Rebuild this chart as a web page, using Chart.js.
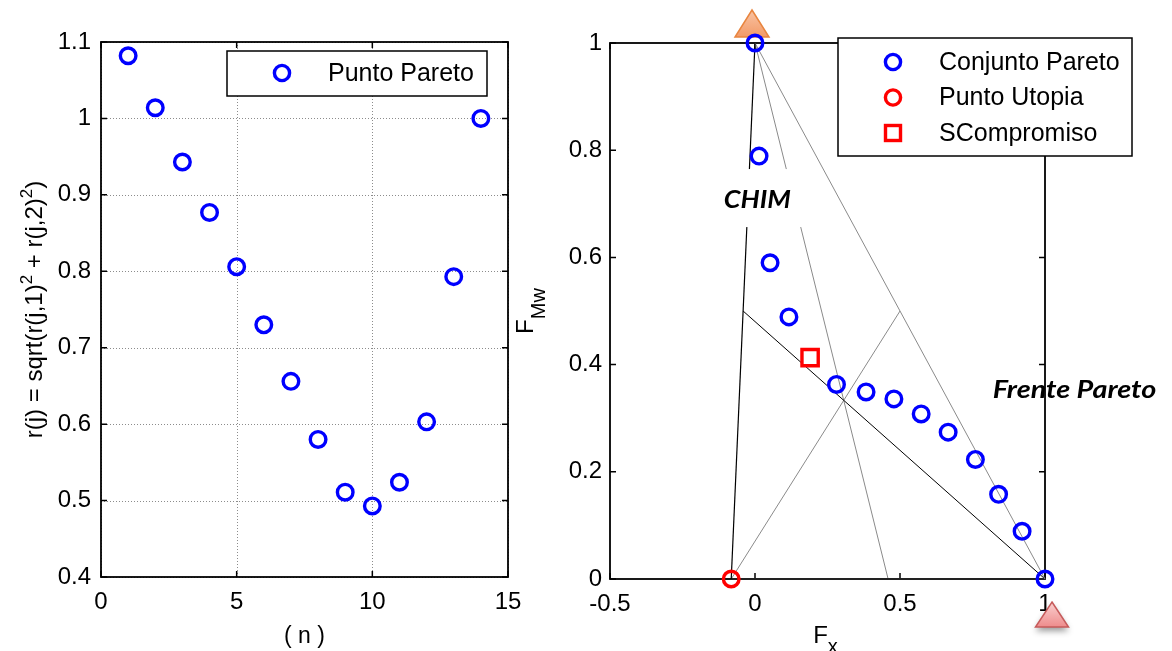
<!DOCTYPE html>
<html>
<head>
<meta charset="utf-8">
<script src="https://cdn.jsdelivr.net/npm/chart.js@4.4.0/dist/chart.umd.min.js"></script>
<style>
  html, body { margin: 0; padding: 0; background: #fff; }
  body { width: 1172px; height: 651px; position: relative; overflow: hidden; }
  canvas { position: absolute; top: 0; }
  #distChart { left: 0; }
  #paretoChart { left: 500px; }
</style>
</head>
<body>
<canvas id="distChart" width="560" height="651"></canvas>
<canvas id="paretoChart" width="672" height="651"></canvas>
<script>
// distance of each Pareto point to the utopia point
const nIndex = [1, 2, 3, 4, 5, 6, 7, 8, 9, 10, 11, 12, 13, 14];
const rDistance = [1.082, 1.014, 0.943, 0.877, 0.806, 0.730, 0.656, 0.580, 0.511, 0.493, 0.524, 0.603, 0.793, 1.000];
const distXTicks = [0, 5, 10, 15];
const distXLabels = ['0', '5', '10', '15'];
const distYTicks = [0.4, 0.5, 0.6, 0.7, 0.8, 0.9, 1.0, 1.1];
const distYLabels = ['0.4', '0.5', '0.6', '0.7', '0.8', '0.9', '1', '1.1'];

// normalised Pareto front (F_x, F_Mw)
const paretoFx  = [0, 0.014, 0.052, 0.117, 0.281, 0.383, 0.479, 0.573, 0.666, 0.760, 0.840, 0.921, 1];
const paretoFMw = [1, 0.789, 0.590, 0.489, 0.363, 0.349, 0.336, 0.308, 0.274, 0.223, 0.158, 0.089, 0];
const utopiaFx = [-0.082];
const utopiaFMw = [0];
const compromiseFx = [0.19];
const compromiseFMw = [0.413];
const frontXTicks = [-0.5, 0, 0.5, 1];
const frontXLabels = ['-0.5', '0', '0.5', '1'];
const frontYTicks = [0, 0.2, 0.4, 0.6, 0.8, 1];
const frontYLabels = ['0', '0.2', '0.4', '0.6', '0.8', '1'];

const FONT = '"Liberation Sans", Arial, Helvetica, sans-serif';
const NOTE_FONT = 'italic bold 24px Lato, "Open Sans", sans-serif';

const toPoints = (xs, ys) => xs.map((x, i) => ({x, y: ys[i]}));
const mid = (p, q) => [(p[0] + q[0]) / 2, (p[1] + q[1]) / 2];

// text made of runs with their own size and baseline shift (sub/superscripts)
function drawRichText(ctx, parts, x, y, angle) {
    ctx.save();
    ctx.translate(x, y);
    ctx.rotate(angle);
    ctx.fillStyle = '#000';
    ctx.textAlign = 'left';
    ctx.textBaseline = 'alphabetic';
    let total = 0;
    parts.forEach(p => {
        ctx.font = p.size + 'px ' + FONT;
        p.w = ctx.measureText(p.text).width;
        total += p.w;
    });
    let cx = -total / 2;
    parts.forEach(p => {
        ctx.font = p.size + 'px ' + FONT;
        ctx.fillText(p.text, cx, p.shift || 0);
        cx += p.w;
    });
    ctx.restore();
}

// box, inward ticks on all four sides and optional dotted grid
function matlabFrame(withGrid) {
    return {
        id: 'matlabFrame',
        beforeDatasetsDraw(chart) {
            const {ctx, chartArea: a, scales: {x, y}} = chart;
            ctx.save();
            if (withGrid) {
                ctx.strokeStyle = 'rgba(0,0,0,0.45)';
                ctx.lineWidth = 1;
                ctx.setLineDash([1, 2]);
                x.ticks.forEach(t => {
                    const px = Math.round(x.getPixelForValue(t.value)) + 0.5;
                    ctx.beginPath(); ctx.moveTo(px, a.top); ctx.lineTo(px, a.bottom); ctx.stroke();
                });
                y.ticks.forEach(t => {
                    const py = Math.round(y.getPixelForValue(t.value)) + 0.5;
                    ctx.beginPath(); ctx.moveTo(a.left, py); ctx.lineTo(a.right, py); ctx.stroke();
                });
                ctx.setLineDash([]);
            }
            ctx.strokeStyle = '#000';
            ctx.lineWidth = 1.8;
            ctx.strokeRect(a.left, a.top, a.right - a.left, a.bottom - a.top);
            ctx.lineWidth = 1.5;
            const len = 6;
            ctx.beginPath();
            x.ticks.forEach(t => {
                const px = x.getPixelForValue(t.value);
                ctx.moveTo(px, a.bottom); ctx.lineTo(px, a.bottom - len);
                ctx.moveTo(px, a.top); ctx.lineTo(px, a.top + len);
            });
            y.ticks.forEach(t => {
                const py = y.getPixelForValue(t.value);
                ctx.moveTo(a.left, py); ctx.lineTo(a.left + len, py);
                ctx.moveTo(a.right, py); ctx.lineTo(a.right - len, py);
            });
            ctx.stroke();
            ctx.restore();
        }
    };
}

// legend box in the style of the plotting tool
function boxLegend(box) {
    return {
        id: 'boxLegend',
        afterDraw(chart) {
            const ctx = chart.ctx;
            const items = chart.data.datasets.filter(d => d.label);
            ctx.save();
            ctx.fillStyle = '#fff';
            ctx.fillRect(box.x, box.y, box.w, box.h);
            ctx.strokeStyle = '#000';
            ctx.lineWidth = 1.5;
            ctx.strokeRect(box.x, box.y, box.w, box.h);
            items.forEach((d, i) => {
                const cy = box.y + box.firstRow + i * box.rowGap;
                const mx = box.x + 55;
                ctx.strokeStyle = d.borderColor;
                ctx.lineWidth = 3.4;
                if (d.pointStyle === 'rect') {
                    ctx.strokeRect(mx - 7.5, cy - 7.5, 15, 15);
                } else {
                    ctx.beginPath(); ctx.arc(mx, cy, 7.6, 0, Math.PI * 2); ctx.stroke();
                }
                ctx.fillStyle = '#000';
                ctx.font = '25px ' + FONT;
                ctx.textAlign = 'left';
                ctx.textBaseline = 'middle';
                ctx.fillText(d.label, box.x + 101, cy + 1);
            });
            ctx.restore();
        }
    };
}

function fixedTicks(values, labels) {
    return {
        afterBuildTicks: s => { s.ticks = values.map(v => ({value: v})); },
        callback: (v, i) => labels[i]
    };
}

const circleStyle = color => ({
    pointStyle: 'circle',
    pointRadius: 7.8,
    pointBorderWidth: 3.4,
    borderColor: color,
    pointBorderColor: color,
    backgroundColor: 'rgba(0,0,0,0)',
    pointBackgroundColor: 'rgba(0,0,0,0)',
    showLine: false,
    clip: false
});

// ---------- left: r(j) against n ----------
const distAxisTitles = {
    id: 'distAxisTitles',
    afterDraw(chart) {
        const {ctx, chartArea: a} = chart;
        drawRichText(ctx, [{text: '( n )', size: 23}], (a.left + a.right) / 2, a.bottom + 66, 0);
        drawRichText(ctx, [
            {text: 'r(j) = sqrt(r(j,1)', size: 24},
            {text: '2', size: 17, shift: -10},
            {text: ' + r(j,2)', size: 24},
            {text: '2', size: 17, shift: -10},
            {text: ')', size: 24}
        ], 42, (a.top + a.bottom) / 2, -Math.PI / 2);
    }
};

const distX = fixedTicks(distXTicks, distXLabels);
const distY = fixedTicks(distYTicks, distYLabels);

new Chart(document.getElementById('distChart'), {
    type: 'scatter',
    data: {
        datasets: [{
            label: 'Punto Pareto',
            data: toPoints(nIndex, rDistance),
            ...circleStyle('#0000ff')
        }]
    },
    options: {
        responsive: false,
        animation: false,
        events: [],
        layout: {padding: {top: 42, right: 52, left: 0, bottom: 0}},
        plugins: {legend: {display: false}, tooltip: {enabled: false}},
        scales: {
            x: {
                type: 'linear', min: 0, max: 15,
                afterBuildTicks: distX.afterBuildTicks,
                afterFit: s => { s.height = 74; },
                grid: {display: false, drawTicks: false},
                border: {display: false},
                ticks: {callback: distX.callback, padding: 11, color: '#000', font: {family: FONT, size: 24}, maxRotation: 0}
            },
            y: {
                type: 'linear', min: 0.4, max: 1.1,
                afterBuildTicks: distY.afterBuildTicks,
                afterFit: s => { s.width = 101; },
                grid: {display: false, drawTicks: false},
                border: {display: false},
                ticks: {callback: distY.callback, padding: 10, color: '#000', font: {family: FONT, size: 24}}
            }
        }
    },
    plugins: [matlabFrame(true), distAxisTitles, boxLegend({x: 227, y: 51, w: 260, h: 45, firstRow: 22, rowGap: 0})]
});

// ---------- right: Pareto front, utopia point and CHIM ----------
const apexTop = [paretoFx[0], paretoFMw[0]];
const apexRight = [paretoFx[paretoFx.length - 1], paretoFMw[paretoFMw.length - 1]];
const utopia = [utopiaFx[0], utopiaFMw[0]];

const segments = [
    {from: apexTop, to: utopia, color: '#000', width: 1.2},
    {from: apexTop, to: apexRight, color: '#8a8a8a', width: 1},
    {from: utopia, to: apexRight, color: '#222', width: 1.8},
    {from: apexRight, to: mid(utopia, apexTop), color: '#000', width: 1},
    {from: apexTop, to: mid(utopia, apexRight), color: '#8a8a8a', width: 1},
    {from: utopia, to: mid(apexTop, apexRight), color: '#8a8a8a', width: 1}
];

function drawTriangle(ctx, cx, baseY, halfW, h, topColor, bottomColor, edge, shadow) {
    ctx.save();
    const g = ctx.createLinearGradient(0, baseY - h, 0, baseY);
    g.addColorStop(0, topColor);
    g.addColorStop(1, bottomColor);
    ctx.beginPath();
    ctx.moveTo(cx, baseY - h);
    ctx.lineTo(cx + halfW, baseY);
    ctx.lineTo(cx - halfW, baseY);
    ctx.closePath();
    if (shadow) {
        ctx.shadowColor = 'rgba(0,0,0,0.4)';
        ctx.shadowBlur = 6;
        ctx.shadowOffsetY = 4;
    }
    ctx.fillStyle = g;
    ctx.fill();
    ctx.shadowColor = 'transparent';
    ctx.strokeStyle = edge;
    ctx.lineWidth = 1.5;
    ctx.stroke();
    ctx.restore();
}

// bold italic note, widened a little horizontally
function drawNote(ctx, text, x, y, stretch, align, baseline) {
    ctx.save();
    ctx.translate(x, y);
    ctx.scale(stretch, 1);
    ctx.fillStyle = '#000';
    ctx.font = NOTE_FONT;
    ctx.textAlign = align;
    ctx.textBaseline = baseline;
    ctx.fillText(text, 0, 0);
    ctx.restore();
}

const frontNotes = {
    id: 'frontNotes',
    beforeDatasetsDraw(chart) {
        const {ctx, scales: {x, y}} = chart;
        // markers pointing at the two ends of the front
        drawTriangle(ctx, x.getPixelForValue(apexTop[0]) - 3, y.getPixelForValue(apexTop[1]) - 6, 17, 27,
            '#f9c4a4', '#f29a68', '#e8853f', false);
        drawTriangle(ctx, x.getPixelForValue(apexRight[0]) + 7, y.getPixelForValue(apexRight[1]) + 48, 16.5, 25,
            '#fad0d0', '#ee8c8c', '#c65b5b', true);
    },
    afterDatasetsDraw(chart) {
        const {ctx, scales: {x, y}} = chart;
        const cx = x.getPixelForValue(0.008);
        const cy = y.getPixelForValue(0.707);
        ctx.save();
        ctx.fillStyle = '#fff';
        ctx.fillRect(cx - 48, cy - 31, 96, 58);
        ctx.restore();
        drawNote(ctx, 'CHIM', cx, cy, 1.12, 'center', 'middle');
        drawNote(ctx, 'Frente Pareto', x.getPixelForValue(0.82), y.getPixelForValue(0.338), 1.2, 'left', 'alphabetic');
    },
    afterDraw(chart) {
        const {ctx, chartArea: a} = chart;
        drawRichText(ctx, [{text: 'F', size: 24}, {text: 'x', size: 20, shift: 10}], (a.left + a.right) / 2 - 2, a.bottom + 64, 0);
        drawRichText(ctx, [{text: 'F', size: 24}, {text: 'Mw', size: 20, shift: 12}], 33, (a.top + a.bottom) / 2, -Math.PI / 2);
    }
};

const frontX = fixedTicks(frontXTicks, frontXLabels);
const frontY = fixedTicks(frontYTicks, frontYLabels);

new Chart(document.getElementById('paretoChart'), {
    type: 'scatter',
    data: {
        datasets: [
            {label: 'Conjunto Pareto', data: toPoints(paretoFx, paretoFMw), order: 0, ...circleStyle('#0000ff')},
            {label: 'Punto Utopia', data: toPoints(utopiaFx, utopiaFMw), order: 0, ...circleStyle('#ff0000')},
            {
                label: 'SCompromiso',
                data: toPoints(compromiseFx, compromiseFMw),
                order: 0,
                pointStyle: 'rect',
                pointRadius: 11.5,
                pointBorderWidth: 3.4,
                borderColor: '#ff0000',
                pointBorderColor: '#ff0000',
                pointBackgroundColor: 'rgba(0,0,0,0)',
                showLine: false,
                clip: false
            },
            ...segments.map(s => ({
                data: [{x: s.from[0], y: s.from[1]}, {x: s.to[0], y: s.to[1]}],
                showLine: true,
                pointRadius: 0,
                borderColor: s.color,
                borderWidth: s.width,
                order: 5,
                clip: false
            }))
        ]
    },
    options: {
        responsive: false,
        animation: false,
        events: [],
        layout: {padding: {top: 43, right: 127, left: 0, bottom: 0}},
        plugins: {legend: {display: false}, tooltip: {enabled: false}},
        scales: {
            x: {
                type: 'linear', min: -0.5, max: 1,
                afterBuildTicks: frontX.afterBuildTicks,
                afterFit: s => { s.height = 72; },
                grid: {display: false, drawTicks: false},
                border: {display: false},
                ticks: {callback: frontX.callback, padding: 11, color: '#000', font: {family: FONT, size: 24}, maxRotation: 0}
            },
            y: {
                type: 'linear', min: 0, max: 1,
                afterBuildTicks: frontY.afterBuildTicks,
                afterFit: s => { s.width = 110; },
                grid: {display: false, drawTicks: false},
                border: {display: false},
                ticks: {callback: frontY.callback, padding: 8, color: '#000', font: {family: FONT, size: 24}}
            }
        }
    },
    plugins: [matlabFrame(false), frontNotes, boxLegend({x: 338, y: 38, w: 294, h: 118, firstRow: 24, rowGap: 35.5})]
});
</script>
</body>
</html>
